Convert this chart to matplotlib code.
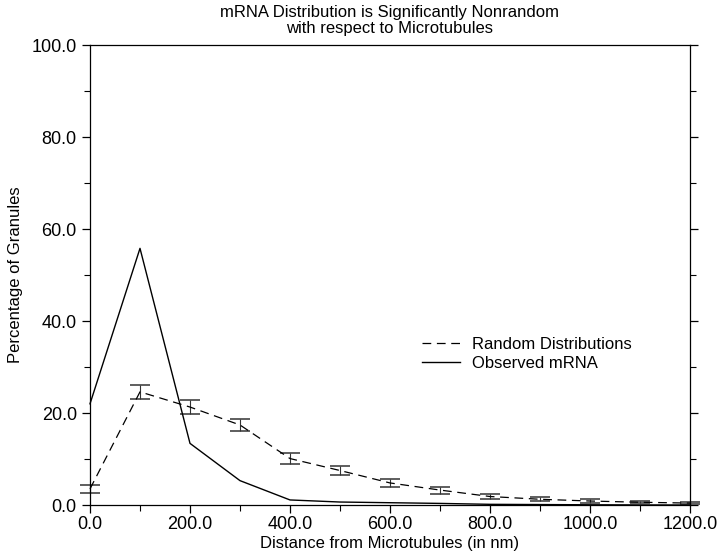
import matplotlib.pyplot as plt
import numpy as np
from matplotlib.lines import Line2D

plt.rcParams['font.family'] = ['Liberation Sans', 'DejaVu Sans']

# расстояние от микротрубочек, нм
distance = [0, 100, 200, 300, 400, 500, 600, 700, 800, 900, 1000, 1100, 1200]

# случайные распределения (среднее и разброс)
random_mean = [3.5, 24.6, 21.3, 17.4, 10.1, 7.5, 4.8, 3.25, 1.85, 1.25, 0.87, 0.6, 0.42]
random_err = [0.8, 1.5, 1.45, 1.25, 1.1, 1.0, 0.8, 0.75, 0.65, 0.45, 0.37, 0.25, 0.22]

# наблюдаемая мРНК
observed = [22.0, 55.8, 13.4, 5.3, 1.1, 0.65, 0.5, 0.35, 0.15, 0.1, 0.05, 0.02, 0.0]

dash = (0, (7, 4.5))

fig = plt.figure(figsize=(7.2, 5.56), dpi=100)
ax = fig.add_axes([0.125, 0.0917, 0.8333, 0.8273])

ax.errorbar(distance, random_mean, yerr=random_err, color='black', linestyle=dash,
            linewidth=0.9, elinewidth=0.8, ecolor='#333333', capsize=7.5, capthick=1.1,
            clip_on=False)
ax.plot(distance, observed, 'k-', linewidth=1.0, clip_on=False)

ax.set_xlim(0, 1200)
ax.set_ylim(0, 100)
ax.set_xticks(np.arange(0, 1201, 200))
ax.set_xticks(np.arange(0, 1201, 100), minor=True)
ax.set_yticks(np.arange(0, 101, 20))
ax.set_yticks(np.arange(0, 101, 10), minor=True)
ax.xaxis.set_major_formatter(plt.FormatStrFormatter('%.1f'))
ax.yaxis.set_major_formatter(plt.FormatStrFormatter('%.1f'))
ax.tick_params(axis='both', which='major', labelsize=13, length=6, width=0.9, direction='out')
ax.tick_params(axis='both', which='minor', length=4, width=0.8, direction='out')
ax.tick_params(axis='y', which='both', right=True)
ax.tick_params(axis='x', which='major', pad=2)
for s in ax.spines.values():
    s.set_linewidth(0.9)

ax.set_xlabel("Distance from Microtubules (in nm)", fontsize=12, labelpad=2)
ax.set_ylabel("Percentage of Granules", fontsize=12, labelpad=6)
ax.set_title("mRNA Distribution is Significantly Nonrandom\nwith respect to Microtubules",
             fontsize=12, pad=9, linespacing=1.05)

handles = [Line2D([], [], color='black', linestyle=dash, linewidth=0.9),
           Line2D([], [], color='black', linewidth=1.0)]
ax.legend(handles, ['Random Distributions', 'Observed mRNA'], loc='upper left',
          bbox_to_anchor=(0.553, 0.365), frameon=False, fontsize=12,
          handlelength=2.3, handletextpad=0.7, labelspacing=0.25, borderpad=0, borderaxespad=0)

plt.savefig('out.png', dpi=100)
